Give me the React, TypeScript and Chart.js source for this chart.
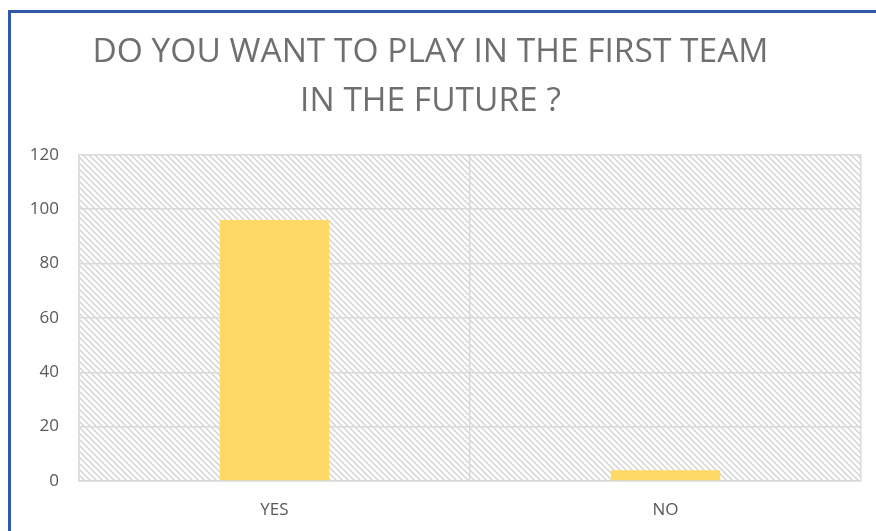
import React, { useEffect, useRef } from "react";
import { Chart, registerables } from "chart.js";

Chart.register(...registerables);

const categories = ["YES", "NO"];
const values = [96, 4];
const titleLines = ["DO YOU WANT TO PLAY IN THE FIRST TEAM", "IN THE FUTURE ?"];
const yMax = 120;
const yStep = 20;

function makeHatch(): CanvasPattern | string {
  const c = document.createElement("canvas");
  const s = 6;
  c.width = s;
  c.height = s;
  const g = c.getContext("2d");
  if (!g) return "#ffffff";
  g.fillStyle = "#ffffff";
  g.fillRect(0, 0, s, s);
  g.strokeStyle = "#d3d3d3";
  g.lineWidth = 1.4;
  g.beginPath();
  g.moveTo(-1, -1);
  g.lineTo(s + 1, s + 1);
  g.moveTo(-1, s - 1);
  g.lineTo(1, s + 1);
  g.moveTo(s - 1, -1);
  g.lineTo(s + 1, 1);
  g.stroke();
  const p = g.createPattern(c, "repeat");
  return p || "#ffffff";
}

const hatchPlugin = {
  id: "hatchBg",
  beforeDraw(chart: any) {
    const { ctx, chartArea } = chart;
    if (!chartArea) return;
    ctx.save();
    ctx.fillStyle = makeHatch();
    ctx.fillRect(chartArea.left, chartArea.top, chartArea.right - chartArea.left, chartArea.bottom - chartArea.top);
    ctx.restore();
  },
};

export default function App() {
  const ref = useRef<HTMLCanvasElement | null>(null);
  useEffect(() => {
    if (!ref.current) return;
    const chart = new Chart(ref.current, {
      type: "bar",
      data: {
        labels: categories,
        datasets: [
          {
            data: values,
            backgroundColor: "#FFD966",
            borderWidth: 0,
            barPercentage: 0.28,
            categoryPercentage: 1,
          },
        ],
      },
      options: {
        animation: false,
        responsive: false,
        maintainAspectRatio: false,
        layout: { padding: { left: 0, right: 15, top: 0, bottom: 0 } },
        plugins: {
          legend: { display: false },
          tooltip: { enabled: false },
          title: {
            display: true,
            text: titleLines,
            color: "#6f6f6f",
            font: { family: "'Open Sans', sans-serif", size: 33.5, weight: "normal", lineHeight: 1.49 },
            padding: { top: 27, bottom: 28 },
          },
        },
        scales: {
          x: {
            grid: { display: true, color: "#d9d9d9", lineWidth: 1.5, offset: true, drawTicks: false },
            border: { display: true, color: "#d9d9d9", width: 1.5 },
            ticks: {
              color: "#595959",
              font: { family: "'Open Sans', sans-serif", size: 17 },
              padding: 19,
            },
            afterFit(scale: any) {
              scale.height = 50;
            },
          },
          y: {
            min: 0,
            max: yMax,
            grid: { color: "#d9d9d9", lineWidth: 1.5, drawTicks: false },
            border: { display: true, color: "#d9d9d9", width: 1.5 },
            ticks: {
              stepSize: yStep,
              color: "#595959",
              font: { family: "'Open Sans', sans-serif", size: 17 },
              padding: 20,
            },
            afterFit(scale: any) {
              scale.width = 79;
            },
          },
        },
      },
      plugins: [hatchPlugin],
    });
    return () => chart.destroy();
  }, []);

  return (
    <div style={{ position: "fixed", left: 0, top: 0, width: 876, height: 531, background: "#ffffff", overflow: "hidden" }}>
      <div
        style={{
          position: "absolute",
          left: 8,
          top: 10,
          width: 900,
          height: 600,
          borderLeft: "3px solid #3159A6",
          borderTop: "3px solid #3159A6",
        }}
      />
      <canvas ref={ref} width={876} height={531} style={{ position: "absolute", left: 0, top: 0 }} />
    </div>
  );
}
